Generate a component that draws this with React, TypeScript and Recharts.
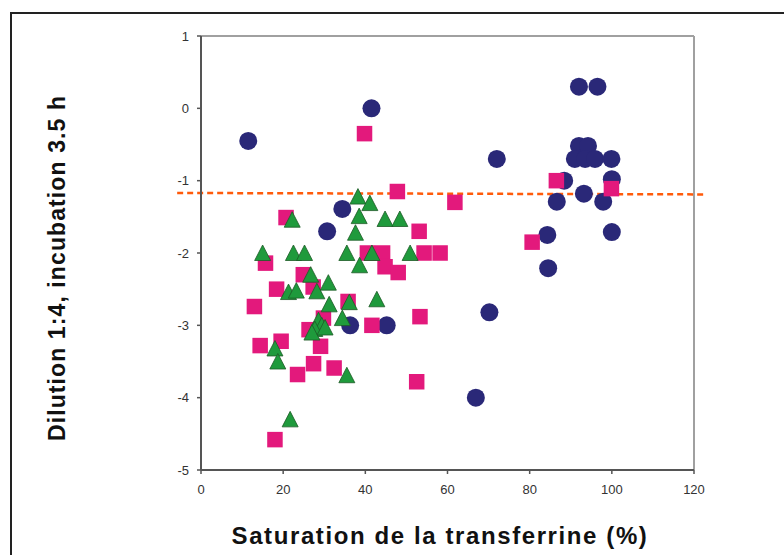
import {
  ScatterChart, Scatter, XAxis, YAxis, ReferenceLine, Label,
} from "recharts";

// [saturation %, log value]
const blueCircles: [number, number][] = [
  [11.5, -0.45], [41.5, 0], [92, 0.3], [96.5, 0.3], [72, -0.7],
  [92, -0.52], [94.2, -0.52], [91, -0.7], [93.5, -0.7], [95.9, -0.7],
  [99.9, -0.7], [88.4, -1.0], [100, -0.98], [93.2, -1.18], [86.6, -1.29],
  [97.9, -1.29], [100, -1.71], [84.3, -1.75], [84.5, -2.21], [70.2, -2.82],
  [66.9, -4.0], [34.4, -1.39], [30.7, -1.7], [36.3, -3.0], [45.2, -3.0],
];

const pinkSquares: [number, number][] = [
  [39.8, -0.35], [47.8, -1.15], [61.8, -1.3], [86.5, -1.0], [99.9, -1.11],
  [80.6, -1.85], [20.7, -1.51], [53.1, -1.7], [40.5, -2.0], [44.2, -2.0],
  [54.3, -2.0], [58.2, -2.0], [44.8, -2.19], [48, -2.27], [15.7, -2.14],
  [24.9, -2.3], [18.4, -2.5], [27.3, -2.47], [13, -2.74], [35.8, -2.67],
  [29.8, -2.9], [26.3, -3.06], [41.6, -3.0], [53.3, -2.88], [14.4, -3.28],
  [19.5, -3.22], [29.1, -3.29], [27.4, -3.53], [32.4, -3.59], [23.5, -3.68],
  [52.5, -3.78], [18, -4.58],
];

const greenTriangles: [number, number][] = [
  [38.2, -1.22], [41.1, -1.31], [22.2, -1.54], [38.5, -1.49], [44.8, -1.53],
  [48.4, -1.53], [37.6, -1.72], [15, -2.0], [22.5, -2.0], [25.2, -2.0],
  [35.5, -2.0], [41.6, -2.0], [50.9, -2.0], [38.6, -2.17], [26.7, -2.3],
  [31, -2.41], [21.3, -2.54], [23.2, -2.52], [28.2, -2.53], [42.8, -2.64],
  [31.2, -2.71], [36.1, -2.68], [34.4, -2.9], [28.6, -2.93], [29.4, -3.0],
  [27.7, -3.05], [27, -3.1], [30.2, -3.03], [18, -3.32], [18.7, -3.5],
  [35.5, -3.69], [21.7, -4.3],
];

// dashed threshold line (runs a little past the plot on both sides)
const thresholdLine = [
  { x: -5.8, y: -1.17 },
  { x: 122.7, y: -1.19 },
];

const xTicks = [0, 20, 40, 60, 80, 100, 120];
const yTicks = [-5, -4, -3, -2, -1, 0, 1];

const toPoints = (arr: [number, number][]) => arr.map(([x, y]) => ({ x, y }));

const FONT = "'Liberation Sans', Arial, sans-serif";

function CircleDot(p: any) {
  return <circle cx={p.cx} cy={p.cy} r={9} fill="#2a2878" />;
}

function SquareDot(p: any) {
  const s = 15.5;
  return <rect x={p.cx - s / 2} y={p.cy - s / 2} width={s} height={s} fill="#e3197c" />;
}

function TriangleDot(p: any) {
  const { cx, cy } = p;
  return (
    <path
      d={`M${cx},${cy - 8} L${cx + 8},${cy + 7.5} L${cx - 8},${cy + 7.5} Z`}
      fill="#1f9a3c"
      stroke="#1d5a26"
      strokeWidth={0.8}
    />
  );
}

export default function App() {
  return (
    <div style={{ position: "absolute", left: 0, top: 0, width: 784, height: 555, background: "#fff", overflow: "hidden" }}>
      {/* outer frame (top + left only are visible) */}
      <div
        style={{
          position: "absolute", left: 10, top: 12, width: 800, height: 600,
          borderTop: "2px solid #222", borderLeft: "2px solid #222",
        }}
      />
      <div style={{ position: "absolute", left: 0, top: 0 }}>
        <ScatterChart width={784} height={555} margin={{ top: 36, right: 90, bottom: 55, left: 161 }}>
          <XAxis
            type="number"
            dataKey="x"
            domain={[0, 120]}
            ticks={xTicks}
            tickSize={4}
            tickMargin={11}
            tick={{ fontSize: 13, fill: "#333", fontFamily: FONT }}
            axisLine={{ stroke: "#555", strokeWidth: 2 }}
            tickLine={{ stroke: "#555", strokeWidth: 1.5 }}
            height={30}
          >
            <Label
              content={() => (
                <text x={440} y={544} textAnchor="middle" fontFamily={FONT} fontWeight="bold" fontSize={24} fill="#111" letterSpacing={1.6}>
                  Saturation de la transferrine (%)
                </text>
              )}
            />
          </XAxis>
          <YAxis
            type="number"
            dataKey="y"
            domain={[-5, 1]}
            ticks={yTicks}
            tickSize={4}
            tickMargin={8}
            tick={{ fontSize: 13, fill: "#333", fontFamily: FONT }}
            axisLine={{ stroke: "#555", strokeWidth: 2 }}
            tickLine={{ stroke: "#555", strokeWidth: 1.5 }}
            width={40}
          >
            <Label
              content={() => (
                <text
                  x={65}
                  y={268}
                  transform="rotate(-90 65 268)"
                  textAnchor="middle"
                  fontFamily={FONT}
                  fontWeight="bold"
                  fontSize={23}
                  fill="#111"
                  letterSpacing={1.1}
                >
                  Dilution 1:4, incubation 3.5 h
                </text>
              )}
            />
          </YAxis>
          <ReferenceLine y={1} stroke="#a0a0a0" strokeWidth={2} />
          <ReferenceLine x={120} stroke="#a0a0a0" strokeWidth={2} />
          <Scatter data={toPoints(blueCircles)} shape={CircleDot} isAnimationActive={false} />
          <Scatter data={toPoints(pinkSquares)} shape={SquareDot} isAnimationActive={false} />
          <Scatter data={toPoints(greenTriangles)} shape={TriangleDot} isAnimationActive={false} />
          <ReferenceLine
            segment={thresholdLine}
            stroke="#ff5a0a"
            strokeWidth={2.5}
            strokeDasharray="6 4"
            ifOverflow="visible"
          />
        </ScatterChart>
      </div>
    </div>
  );
}
